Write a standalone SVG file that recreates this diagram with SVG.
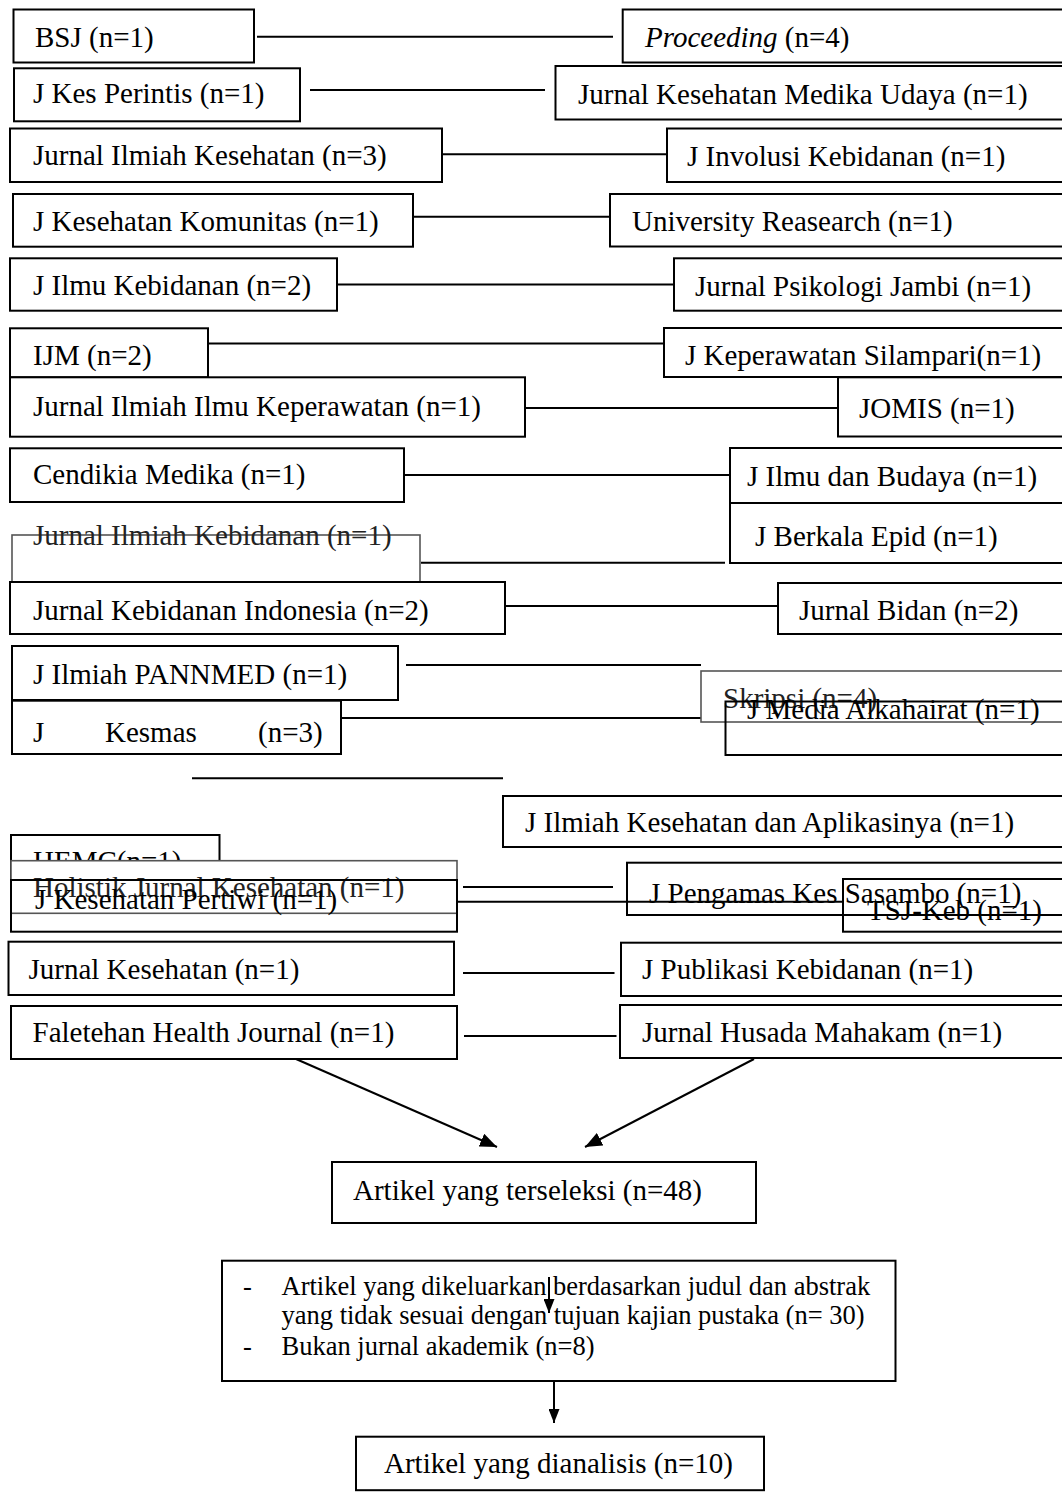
<svg xmlns="http://www.w3.org/2000/svg" width="1062" height="1493" viewBox="0 0 1062 1493">
<style>
.b{fill:#fff;stroke:#000;stroke-width:2}
.bn{fill:none;stroke:#000;stroke-width:2}
.g{fill:#fff;stroke:#555;stroke-width:1.6}
.gn{fill:none;stroke:#555;stroke-width:1.6}
.l{stroke:#000;stroke-width:2;fill:none}
text{font-family:"Liberation Serif","Times New Roman",serif;font-size:29px;fill:#000}
.s{font-size:26.5px}
.gt{fill:#222}
</style>
<defs>
<marker id="ah" markerWidth="17" markerHeight="14" refX="17" refY="7" orient="auto" markerUnits="userSpaceOnUse"><path d="M0,0 L17,7 L0,14 z" fill="#000"/></marker>
<marker id="ahs" markerWidth="14" markerHeight="11" refX="14" refY="5.5" orient="auto" markerUnits="userSpaceOnUse"><path d="M0,0 L14,5.5 L0,11 z" fill="#000"/></marker>
</defs>
<rect width="1062" height="1493" fill="#fff"/>

<g id="connectors">
<line class="l" x1="257" y1="36.7" x2="613" y2="36.7"/>
<line class="l" x1="310" y1="90" x2="545" y2="90"/>
<line class="l" x1="442" y1="154.3" x2="667" y2="154.3"/>
<line class="l" x1="414" y1="216.7" x2="610" y2="216.7"/>
<line class="l" x1="337" y1="284.5" x2="674" y2="284.5"/>
<line class="l" x1="208" y1="343.5" x2="664" y2="343.5"/>
<line class="l" x1="525" y1="408" x2="838" y2="408"/>
<line class="l" x1="404" y1="475" x2="730" y2="475"/>
<line class="l" x1="421" y1="562.7" x2="725" y2="562.7" stroke="#333"/>
<line class="l" x1="505" y1="606" x2="778" y2="606"/>
<line class="l" x1="406" y1="665" x2="701" y2="665" stroke="#333"/>
<line class="l" x1="342" y1="718" x2="726" y2="718"/>
<line class="l" x1="192" y1="778.3" x2="503" y2="778.3"/>
<line class="l" x1="463" y1="887" x2="613" y2="887"/>
<line class="l" x1="463" y1="973" x2="614.5" y2="973"/>
<line class="l" x1="464" y1="1036" x2="616.5" y2="1036"/>
<line class="l" x1="296" y1="1059" x2="497" y2="1147" marker-end="url(#ah)"/>
<line class="l" x1="754" y1="1059" x2="585" y2="1147" marker-end="url(#ah)"/>
<line class="l" x1="549" y1="1277" x2="549" y2="1313" marker-end="url(#ahs)"/>
<line class="l" x1="554" y1="1381" x2="554" y2="1423" marker-end="url(#ahs)"/>
</g>

<g id="bsj"><rect class="b" x="13.5" y="9.5" width="240.5" height="53"/><text x="35" y="47">BSJ (n=1)</text></g>
<g id="proceeding"><rect class="b" x="622.7" y="9.5" width="450" height="53"/><text x="645" y="47"><tspan font-style="italic">Proceeding</tspan> (n=4)</text></g>
<g id="jkes-perintis"><rect class="b" x="14" y="68.3" width="286" height="53"/><text x="33" y="103">J Kes Perintis (n=1)</text></g>
<g id="jkmu"><rect class="b" x="555.5" y="66" width="520" height="53.5"/><text x="578" y="103.5">Jurnal Kesehatan Medika Udaya (n=1)</text></g>
<g id="jik"><rect class="b" x="10" y="128.5" width="432" height="53.5"/><text x="33" y="164.5">Jurnal Ilmiah Kesehatan (n=3)</text></g>
<g id="jinvolusi"><rect class="b" x="667" y="128.5" width="410" height="53.5"/><text x="687" y="166">J Involusi Kebidanan (n=1)</text></g>
<g id="jkk"><rect class="b" x="13" y="194" width="400" height="52.7"/><text x="33" y="231">J Kesehatan Komunitas (n=1)</text></g>
<g id="university"><rect class="b" x="610" y="194" width="460" height="52.5"/><text x="632" y="231">University Reasearch (n=1)</text></g>
<g id="jikeb"><rect class="b" x="10" y="258.3" width="327" height="52.4"/><text x="33" y="294.5">J Ilmu Kebidanan (n=2)</text></g>
<g id="psikologi"><rect class="b" x="674" y="258.3" width="400" height="52.4"/><text x="695" y="296">Jurnal Psikologi Jambi (n=1)</text></g>
<g id="ijm"><rect class="b" x="10" y="328.3" width="198" height="49"/><text x="33" y="365">IJM (n=2)</text></g>
<g id="silampari"><rect class="b" x="664" y="328" width="410" height="49"/><text x="685" y="364.5">J Keperawatan Silampari(n=1)</text></g>
<g id="jiik"><rect class="b" x="10" y="377.3" width="515" height="59.4"/><text x="33" y="416">Jurnal Ilmiah Ilmu Keperawatan (n=1)</text></g>
<g id="jomis"><rect class="b" x="838" y="377.3" width="240" height="59.2"/><text x="859" y="418">JOMIS (n=1)</text></g>
<g id="cendikia"><rect class="b" x="10" y="448.3" width="394" height="53.7"/><text x="33" y="484">Cendikia Medika (n=1)</text></g>
<g id="jilmu-budaya"><rect class="b" x="730" y="448" width="345" height="55"/><text x="747" y="486">J Ilmu dan Budaya (n=1)</text></g>
<g id="jberkala"><rect class="b" x="730" y="503" width="345" height="60"/><text x="755" y="546">J Berkala Epid (n=1)</text></g>
<g id="jikebidanan"><rect class="g" x="12" y="535" width="408" height="53"/><text class="gt" x="33" y="545">Jurnal Ilmiah Kebidanan (n=1)</text></g>
<g id="jki"><rect class="b" x="10" y="582" width="495" height="52"/><text x="33" y="620">Jurnal Kebidanan Indonesia (n=2)</text></g>
<g id="jbidan"><rect class="b" x="778" y="583" width="300" height="51"/><text x="799" y="620">Jurnal Bidan (n=2)</text></g>
<g id="pannmed"><rect class="b" x="12" y="646" width="386" height="54"/><text x="33" y="684">J Ilmiah PANNMED (n=1)</text></g>
<g id="skripsi"><rect class="g" x="701" y="671" width="375" height="51"/><text class="gt" x="723" y="708">Skripsi (n=4)</text></g>
<g id="jkesmas"><rect class="b" x="12" y="700.7" width="329" height="53.3"/><text x="33" y="742">J</text><text x="105" y="742">Kesmas</text><text x="258" y="742">(n=3)</text></g>
<g id="jmedia"><rect class="bn" x="725.5" y="701.5" width="350" height="53.5" stroke-width="3"/><text x="747" y="719">J Media Alkahairat (n=1)</text></g>
<g id="jika"><rect class="b" x="503" y="796" width="570" height="51"/><text x="525" y="832">J Ilmiah Kesehatan dan Aplikasinya (n=1)</text></g>
<g id="hemc"><rect class="b" x="11" y="835" width="208.5" height="50"/><text x="33" y="871">HEMC(n=1)</text></g>
<g id="holistik"><rect class="g" x="11" y="860.7" width="446" height="52.6"/><text class="gt" x="33" y="896.5">Holistik Jurnal Kesehatan (n=1)</text></g>
<g id="jpertiwi"><rect class="bn" x="11" y="880" width="446" height="51.7"/><text x="35" y="909">J Kesehatan Pertiwi (n=1)</text></g>
<g id="jpengamas"><rect class="b" x="627" y="862.7" width="450" height="52.3"/><text x="649" y="902.7">J Pengamas Kes Sasambo (n=1)</text></g>
<g id="connector-pertiwi"><line class="l" x1="457" y1="901.7" x2="843" y2="901.7"/></g>
<g id="tsjkeb"><rect class="bn" x="843" y="879" width="230" height="52.7"/><text x="867" y="920">TSJ-Keb (n=1)</text></g>
<g id="jkesehatan"><rect class="b" x="8.5" y="941.7" width="445.5" height="53.3"/><text x="28.5" y="978.5">Jurnal Kesehatan (n=1)</text></g>
<g id="jpublikasi"><rect class="b" x="621" y="942.7" width="455" height="53.3"/><text x="642" y="978.5">J Publikasi Kebidanan (n=1)</text></g>
<g id="faletehan"><rect class="b" x="11" y="1006" width="446" height="53"/><text x="32.5" y="1042">Faletehan Health Journal (n=1)</text></g>
<g id="husada"><rect class="b" x="620" y="1005" width="456" height="53"/><text x="642" y="1041.5">Jurnal Husada Mahakam (n=1)</text></g>
<g id="terseleksi"><rect class="b" x="332" y="1162" width="424" height="61"/><text x="353" y="1199.5">Artikel yang terseleksi (n=48)</text></g>
<g id="dikeluarkan"><rect class="bn" x="222" y="1260.7" width="673.5" height="120.3"/>
<text class="s" x="243" y="1295">-</text><text class="s" x="281.5" y="1295">Artikel yang dikeluarkan berdasarkan judul dan abstrak</text>
<text class="s" x="281.5" y="1323.5">yang tidak sesuai dengan tujuan kajian pustaka (n= 30)</text>
<text class="s" x="243" y="1355">-</text><text class="s" x="281.5" y="1355">Bukan jurnal akademik (n=8)</text></g>
<g id="dianalisis"><rect class="b" x="356" y="1436.7" width="408" height="53.5"/><text x="384" y="1473">Artikel yang dianalisis (n=10)</text></g>
</svg>
